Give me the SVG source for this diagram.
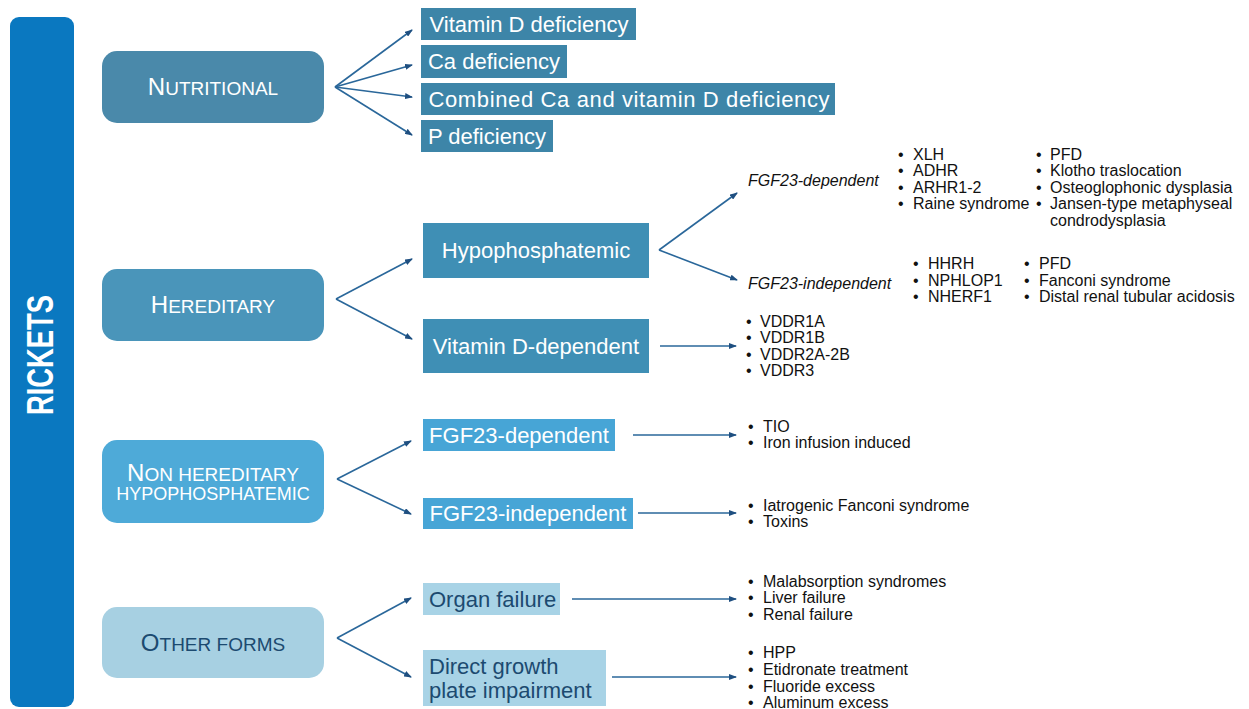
<svg xmlns="http://www.w3.org/2000/svg" width="1249" height="709" viewBox="0 0 1249 709">
<style>
text{font-family:"Liberation Sans",Arial,sans-serif}
.cat{fill:#ffffff;text-anchor:middle}
.big{font-size:24px}
.sm{font-size:19px}
.sub{font-size:22px;fill:#ffffff;text-anchor:middle}
.subd{font-size:22px;fill:#1c4a70}
.li{font-size:16px;fill:#111111}
.it{font-size:16px;font-style:italic;fill:#111111}
.conn{stroke:#2a679a;stroke-width:1.6;fill:none;marker-end:url(#ah)}
</style>
<defs>
<marker id="ah" markerWidth="8" markerHeight="6" refX="7" refY="3" orient="auto" markerUnits="userSpaceOnUse">
<path d="M0,0 L8,3 L0,6 Z" fill="#1f4f80"/>
</marker>
</defs>
<rect width="1249" height="709" fill="#ffffff"/>

<g id="rickets">
<rect x="10" y="17" width="64" height="690" rx="9" fill="#0a78c0"/>
<text transform="translate(53,355) rotate(-90)" text-anchor="middle" font-size="36" font-weight="bold" fill="#ffffff" textLength="120" lengthAdjust="spacingAndGlyphs">RICKETS</text>
</g>

<g id="nutritional">
<rect x="102" y="51" width="222" height="72" rx="15" fill="#4a89aa"/>
<text class="cat" x="213" y="95"><tspan class="big">N</tspan><tspan class="sm">UTRITIONAL</tspan></text>
</g>
<g id="hereditary">
<rect x="102" y="269" width="222" height="72" rx="15" fill="#4a95ba"/>
<text class="cat" x="213" y="313"><tspan class="big">H</tspan><tspan class="sm">EREDITARY</tspan></text>
</g>
<g id="nonhereditary">
<rect x="102" y="440" width="222" height="83" rx="15" fill="#4eaad8"/>
<text class="cat" x="213" y="481"><tspan class="big">N</tspan><tspan class="sm">ON HEREDITARY</tspan></text>
<text class="cat" x="213" y="500" font-size="18">HYPOPHOSPHATEMIC</text>
</g>
<g id="otherforms">
<rect x="102" y="607" width="222" height="71" rx="15" fill="#a7d0e2"/>
<text x="213" y="651" text-anchor="middle" fill="#1c4a70"><tspan class="big">O</tspan><tspan class="sm">THER FORMS</tspan></text>
</g>

<g id="vitd-def"><rect x="421" y="8" width="215" height="32" fill="#3d85a8"/><text class="sub" x="529" y="32">Vitamin D deficiency</text></g>
<g id="ca-def"><rect x="421" y="45" width="146" height="33" fill="#3d85a8"/><text class="sub" x="494" y="69">Ca deficiency</text></g>
<g id="combined-def"><rect x="421" y="83" width="414" height="32" fill="#3d85a8"/><text class="sub" x="629" y="107" textLength="401" lengthAdjust="spacing">Combined Ca and vitamin D deficiency</text></g>
<g id="p-def"><rect x="421" y="120" width="132" height="32" fill="#3d85a8"/><text class="sub" x="487" y="144">P deficiency</text></g>

<g id="hypophosphatemic"><rect x="423" y="223" width="226" height="55" fill="#3f8fb5"/><text class="sub" x="536" y="258">Hypophosphatemic</text></g>
<g id="vitd-dependent"><rect x="423" y="319" width="226" height="54" fill="#3f8fb5"/><text class="sub" x="536" y="354">Vitamin D-dependent</text></g>

<g id="fgf23-dep-nh"><rect x="423" y="419" width="192" height="32" fill="#47a5d6"/><text class="sub" x="519" y="443">FGF23-dependent</text></g>
<g id="fgf23-indep-nh"><rect x="423" y="498" width="210" height="31" fill="#47a5d6"/><text class="sub" x="528" y="521">FGF23-independent</text></g>

<g id="organ-failure"><rect x="423" y="583" width="137" height="32" fill="#a8d3e6"/><text class="subd" x="429" y="607">Organ failure</text></g>
<g id="direct-growth"><rect x="423" y="650" width="183" height="56" fill="#a8d3e6"/><text class="subd" x="429" y="674">Direct growth</text><text class="subd" x="429" y="698">plate impairment</text></g>

<g id="fgf23-dep-list">
<text class="it" x="748" y="186">FGF23-dependent</text>
<text class="li"><tspan x="898" y="160">•</tspan><tspan x="913" y="160">XLH</tspan><tspan x="898" y="176">•</tspan><tspan x="913" y="176">ADHR</tspan><tspan x="898" y="193">•</tspan><tspan x="913" y="193">ARHR1-2</tspan><tspan x="898" y="209">•</tspan><tspan x="913" y="209">Raine syndrome</tspan></text>
<text class="li"><tspan x="1036" y="160">•</tspan><tspan x="1050" y="160">PFD</tspan><tspan x="1036" y="176">•</tspan><tspan x="1050" y="176">Klotho traslocation</tspan><tspan x="1036" y="193">•</tspan><tspan x="1050" y="193">Osteoglophonic dysplasia</tspan><tspan x="1036" y="209">•</tspan><tspan x="1050" y="209">Jansen-type metaphyseal</tspan><tspan x="1050" y="226">condrodysplasia</tspan></text>
</g>
<g id="fgf23-indep-list">
<text class="it" x="748" y="289">FGF23-independent</text>
<text class="li"><tspan x="913" y="269">•</tspan><tspan x="928" y="269">HHRH</tspan><tspan x="913" y="286">•</tspan><tspan x="928" y="286">NPHLOP1</tspan><tspan x="913" y="302">•</tspan><tspan x="928" y="302">NHERF1</tspan></text>
<text class="li"><tspan x="1024" y="269">•</tspan><tspan x="1039" y="269">PFD</tspan><tspan x="1024" y="286">•</tspan><tspan x="1039" y="286">Fanconi syndrome</tspan><tspan x="1024" y="302">•</tspan><tspan x="1039" y="302">Distal renal tubular acidosis</tspan></text>
</g>
<g id="vddr-list">
<text class="li"><tspan x="746" y="327">•</tspan><tspan x="760" y="327">VDDR1A</tspan><tspan x="746" y="343">•</tspan><tspan x="760" y="343">VDDR1B</tspan><tspan x="746" y="360">•</tspan><tspan x="760" y="360">VDDR2A-2B</tspan><tspan x="746" y="376">•</tspan><tspan x="760" y="376">VDDR3</tspan></text>
</g>
<g id="tio-list">
<text class="li"><tspan x="748" y="432">•</tspan><tspan x="763" y="432">TIO</tspan><tspan x="748" y="448">•</tspan><tspan x="763" y="448">Iron infusion induced</tspan></text>
</g>
<g id="iatrogenic-list">
<text class="li"><tspan x="748" y="511">•</tspan><tspan x="763" y="511">Iatrogenic Fanconi syndrome</tspan><tspan x="748" y="527">•</tspan><tspan x="763" y="527">Toxins</tspan></text>
</g>
<g id="organ-list">
<text class="li"><tspan x="748" y="587">•</tspan><tspan x="763" y="587">Malabsorption syndromes</tspan><tspan x="748" y="603">•</tspan><tspan x="763" y="603">Liver failure</tspan><tspan x="748" y="620">•</tspan><tspan x="763" y="620">Renal failure</tspan></text>
</g>
<g id="growth-list">
<text class="li"><tspan x="748" y="658">•</tspan><tspan x="763" y="658">HPP</tspan><tspan x="748" y="675">•</tspan><tspan x="763" y="675">Etidronate treatment</tspan><tspan x="748" y="692">•</tspan><tspan x="763" y="692">Fluoride excess</tspan><tspan x="748" y="708">•</tspan><tspan x="763" y="708">Aluminum excess</tspan></text>
</g>

<g id="connectors">
<line class="conn" x1="335" y1="87" x2="412" y2="30"/>
<line class="conn" x1="335" y1="87" x2="412" y2="65"/>
<line class="conn" x1="335" y1="87" x2="412" y2="97"/>
<line class="conn" x1="335" y1="87" x2="412" y2="135"/>
<line class="conn" x1="336" y1="299" x2="412" y2="259"/>
<line class="conn" x1="336" y1="299" x2="412" y2="339"/>
<line class="conn" x1="659" y1="250" x2="737" y2="193"/>
<line class="conn" x1="659" y1="250" x2="737" y2="280"/>
<line class="conn" x1="660" y1="346" x2="736" y2="346"/>
<line class="conn" x1="337" y1="479" x2="411" y2="441"/>
<line class="conn" x1="337" y1="479" x2="411" y2="514"/>
<line class="conn" x1="633" y1="435" x2="736" y2="435"/>
<line class="conn" x1="638" y1="513" x2="736" y2="513"/>
<line class="conn" x1="337" y1="638" x2="411" y2="598"/>
<line class="conn" x1="337" y1="638" x2="411" y2="677"/>
<line class="conn" x1="572" y1="599" x2="736" y2="599"/>
<line class="conn" x1="612" y1="677" x2="736" y2="677"/>
</g>
</svg>
